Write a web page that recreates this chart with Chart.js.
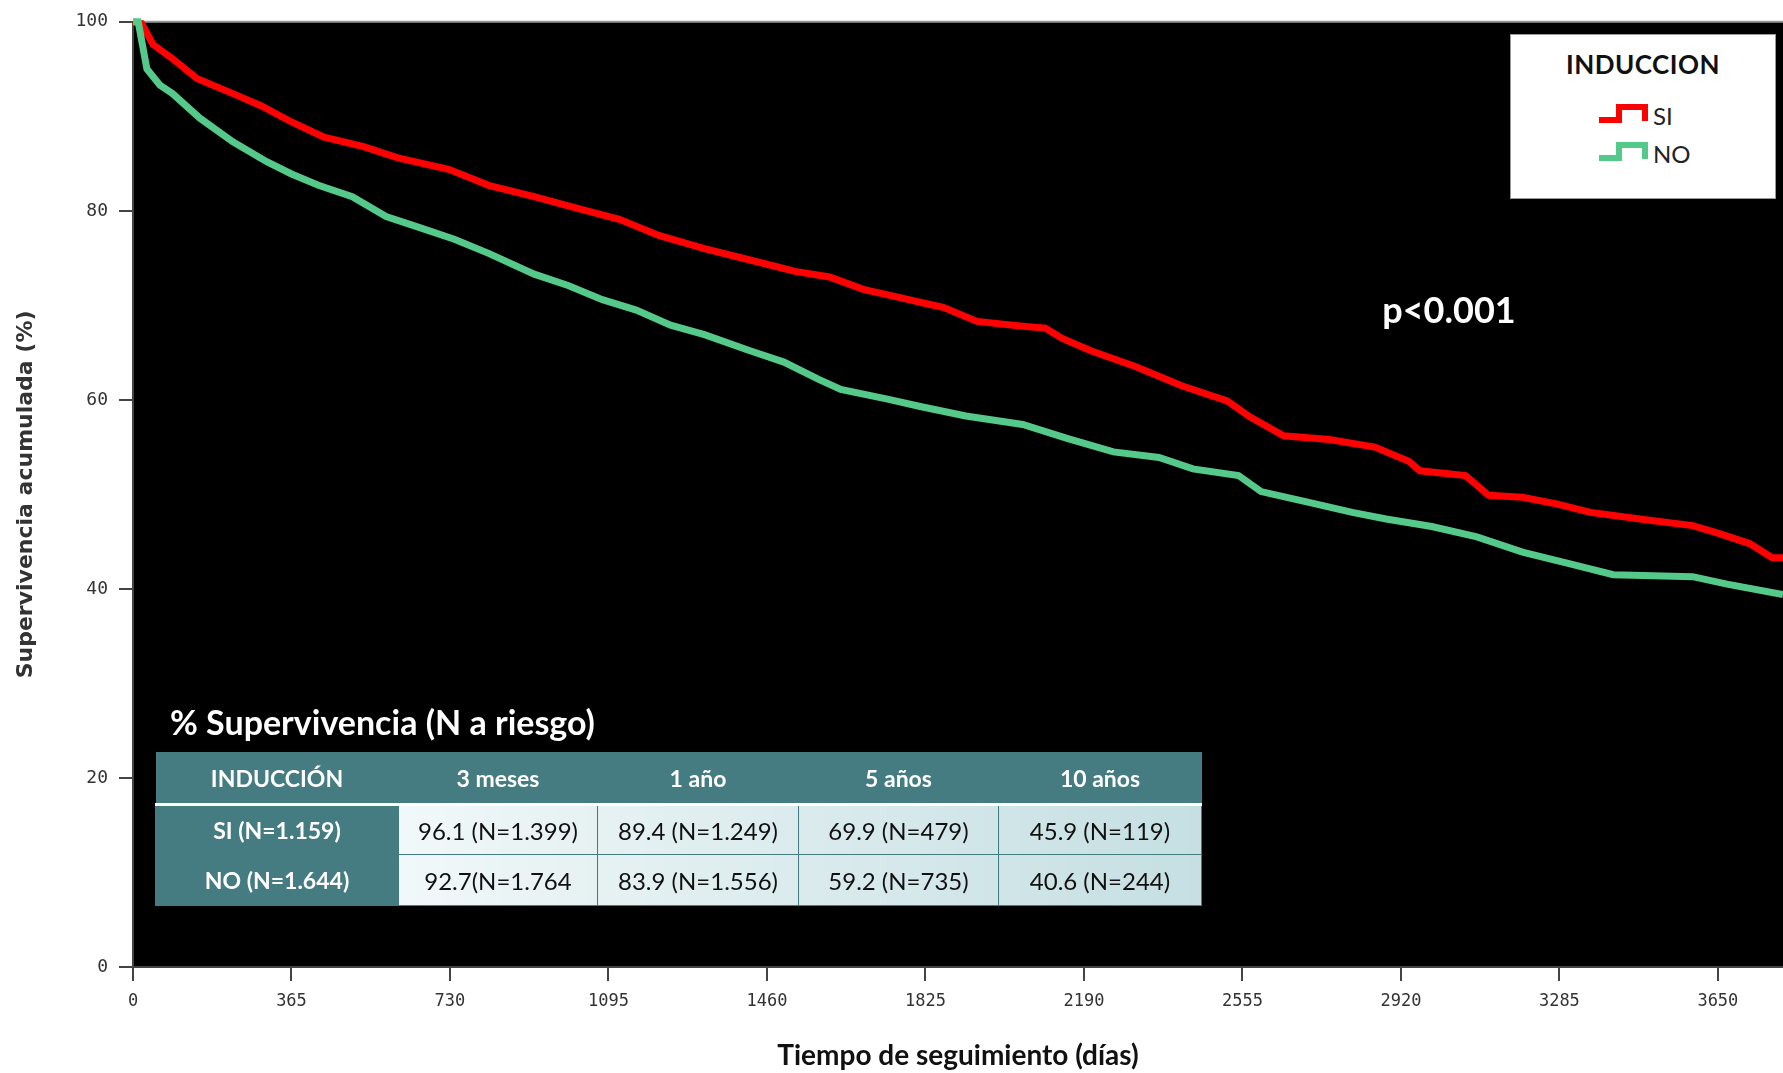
<!DOCTYPE html>
<html>
<head>
<meta charset="utf-8">
<script src="https://cdn.jsdelivr.net/npm/chart.js@4.4.1/dist/chart.umd.min.js"></script>
<style>
body { margin: 0; background: #fff; }
#wrap { position: relative; width: 1783px; height: 1073px; overflow: hidden; font-family: Lato, "Open Sans", sans-serif; }
#chart { position: absolute; left: 0; top: 0; }
.legend { position: absolute; left: 1510px; top: 34px; width: 264px; height: 163px; background: #fff; border: 1px solid #999; }
.legend .ttl { position: absolute; left: 0; width: 100%; top: 29px; transform: translateY(-50%); text-align: center; font-weight: bold; font-size: 26px; color: #111; letter-spacing: 0.5px; }
.legend .item { position: absolute; left: 86px; height: 24px; display: flex; align-items: center; font-size: 24px; color: #222; }
.legend .item svg { margin-right: 4px; }
.pval { position: absolute; left: 1449px; top: 309px; transform: translate(-50%, -50%); color: #fff; font-weight: bold; font-size: 36px; }
.tbltitle { position: absolute; left: 170px; top: 721px; transform: translateY(-50%); color: #fff; font-weight: bold; font-size: 34px; white-space: nowrap; }
table.surv { position: absolute; left: 155px; top: 752px; border-collapse: collapse; table-layout: fixed; }
table.surv td, table.surv th { padding: 0; text-align: center; white-space: nowrap; }
table.surv th { background: #447c82; color: #fff; font-weight: bold; font-size: 23px; height: 51px; border-bottom: 3px solid #fff; }
table.surv td { font-size: 24px; color: #111; border: 1px solid #447c82; }
table.surv td.rowhead { background: #447c82; color: #fff; font-weight: bold; font-size: 23px; }
table.surv tr.r1 td { height: 48px; }
table.surv tr.r2 td { height: 50px; }
</style>
</head>
<body>
<div id="wrap">
  <canvas id="chart" width="1783" height="1073"></canvas>
  <div class="legend">
    <div class="ttl">INDUCCION</div>
    <div class="item" style="top:68px;">
      <svg width="52" height="24"><polyline points="2,17 22,17 22,4 48,4 48,18" fill="none" stroke="#ff0000" stroke-width="6"/></svg>SI
    </div>
    <div class="item" style="top:106px;">
      <svg width="52" height="24"><polyline points="2,17 22,17 22,4 48,4 48,18" fill="none" stroke="#55c98a" stroke-width="6"/></svg>NO
    </div>
  </div>
  <div class="pval">p&lt;0.001</div>
  <div class="tbltitle">% Supervivencia (N a riesgo)</div>
  <table class="surv" id="survTable"></table>
</div>
<script>
// Curvas de Kaplan-Meier (dias, % supervivencia acumulada)
const siDays = [0, 20, 46, 91, 147, 230, 296, 365, 440, 531, 610, 727, 819, 924, 1028, 1120, 1211, 1316, 1421, 1525, 1604, 1682, 1787, 1825, 1866, 1944, 2049, 2101, 2140, 2206, 2310, 2415, 2520, 2572, 2650, 2755, 2860, 2938, 2964, 3069, 3122, 3200, 3278, 3357, 3488, 3592, 3650, 3723, 3775, 3800];
const siSurv = [100, 99.8, 97.6, 96.1, 94.0, 92.4, 91.1, 89.4, 87.8, 86.8, 85.6, 84.4, 82.7, 81.5, 80.2, 79.1, 77.4, 76.0, 74.8, 73.6, 73.0, 71.7, 70.6, 70.2, 69.8, 68.3, 67.8, 67.6, 66.5, 65.2, 63.5, 61.5, 59.9, 58.2, 56.2, 55.8, 55.0, 53.5, 52.5, 52.0, 49.9, 49.7, 49.0, 48.1, 47.3, 46.7, 45.9, 44.8, 43.3, 43.3];

const noDays = [0, 12, 32, 62, 91, 154, 230, 308, 365, 427, 505, 583, 662, 740, 819, 924, 1002, 1081, 1159, 1238, 1316, 1421, 1499, 1578, 1630, 1735, 1813, 1918, 2049, 2153, 2258, 2363, 2441, 2546, 2598, 2703, 2808, 2886, 2991, 3095, 3200, 3305, 3409, 3592, 3671, 3800];
const noSurv = [100, 100, 95.0, 93.3, 92.4, 89.8, 87.3, 85.2, 83.9, 82.7, 81.5, 79.4, 78.2, 77.0, 75.5, 73.3, 72.1, 70.6, 69.5, 67.9, 66.9, 65.2, 64.0, 62.2, 61.1, 60.1, 59.3, 58.3, 57.4, 55.9, 54.5, 53.9, 52.7, 52.0, 50.3, 49.2, 48.1, 47.4, 46.6, 45.5, 43.9, 42.7, 41.5, 41.3, 40.5, 39.4];

const xTicks = [0, 365, 730, 1095, 1460, 1825, 2190, 2555, 2920, 3285, 3650];
const yTicks = [0, 20, 40, 60, 80, 100];

// Tabla de supervivencia
const tableCols = ['INDUCCIÓN', '3 meses', '1 año', '5 años', '10 años'];
const tableSi = ['SI (N=1.159)', '96.1 (N=1.399)', '89.4 (N=1.249)', '69.9 (N=479)', '45.9 (N=119)'];
const tableNo = ['NO (N=1.644)', '92.7(N=1.764', '83.9 (N=1.556)', '59.2 (N=735)', '40.6 (N=244)'];

const colWidths = [243, 199, 201, 200, 203];
const cellBg = ['', 'linear-gradient(90deg,#f1f8f9,#e6f1f2)', 'linear-gradient(90deg,#e6f1f2,#dbebed)', 'linear-gradient(90deg,#dbebed,#d0e5e8)', 'linear-gradient(90deg,#d0e5e8,#c5dfe2)'];

const tbl = document.getElementById('survTable');
let html = '<tr>' + tableCols.map((c, i) => `<th style="width:${colWidths[i]}px">${c}</th>`).join('') + '</tr>';
[tableSi, tableNo].forEach((row, r) => {
    html += `<tr class="r${r + 1}">` + row.map((c, i) =>
        i === 0 ? `<td class="rowhead">${c}</td>` : `<td style="background:${cellBg[i]}">${c}</td>`
    ).join('') + '</tr>';
});
tbl.innerHTML = html;

const toPoints = (xs, ys) => xs.map((x, i) => ({ x: x, y: ys[i] }));

const plotBg = {
    id: 'plotBg',
    beforeDraw(chart) {
        const { ctx, chartArea: a } = chart;
        ctx.save();
        ctx.fillStyle = '#000';
        ctx.fillRect(a.left, a.top, a.right - a.left, a.bottom - a.top);
        ctx.strokeStyle = '#999';
        ctx.lineWidth = 2;
        ctx.beginPath();
        ctx.moveTo(a.left, a.top);
        ctx.lineTo(a.right, a.top);
        ctx.stroke();
        ctx.restore();
    }
};

const ctxKM = document.getElementById('chart');
new Chart(ctxKM, {
    type: 'line',
    data: {
        datasets: [{
            label: 'NO',
            data: toPoints(noDays, noSurv),
            borderColor: '#55c98a',
            borderWidth: 7,
            pointRadius: 0,
            tension: 0,
            clip: false,
        }, {
            label: 'SI',
            data: toPoints(siDays, siSurv),
            borderColor: '#ff0000',
            borderWidth: 7,
            pointRadius: 0,
            tension: 0,
            clip: false,
        }],
    },
    options: {
        responsive: false,
        animation: false,
        layout: { padding: { top: 20, right: 0, left: 0, bottom: 0 } },
        plugins: {
            legend: { display: false },
            tooltip: { enabled: false },
        },
        scales: {
            x: {
                type: 'linear',
                min: 0,
                max: 3800,
                afterFit(s) { s.height = 106; },
                afterBuildTicks(s) { s.ticks = xTicks.map(v => ({ value: v })); },
                grid: { drawOnChartArea: false, drawTicks: true, tickLength: 14, color: '#444', lineWidth: 2 },
                border: { display: true, color: '#444', width: 2 },
                ticks: {
                    font: { family: 'DejaVu Sans Mono', size: 17 },
                    color: '#333',
                    padding: 10,
                    maxRotation: 0,
                    autoSkip: false,
                    callback: (v) => String(v),
                },
                title: {
                    display: true,
                    text: 'Tiempo de seguimiento (días)',
                    font: { family: 'Lato', size: 28, weight: 'bold' },
                    color: '#111',
                    padding: { top: 0, bottom: 0 },
                },
            },
            y: {
                min: 0,
                max: 100,
                afterFit(s) { s.width = 133; },
                afterBuildTicks(s) { s.ticks = yTicks.map(v => ({ value: v })); },
                grid: { drawOnChartArea: false, drawTicks: true, tickLength: 14, color: '#444', lineWidth: 2 },
                border: { display: true, color: '#444', width: 2 },
                ticks: { font: { family: 'DejaVu Sans Mono', size: 18 }, color: '#333', padding: 11, callback: (v) => String(v) },
                title: {
                    display: true,
                    text: 'Supervivencia acumulada (%)',
                    font: { family: 'DejaVu Sans', size: 22, weight: 'bold' },
                    color: '#333',
                    padding: { top: 13, bottom: 0 },
                },
            },
        },
    },
    plugins: [plotBg],
});
</script>
</body>
</html>
